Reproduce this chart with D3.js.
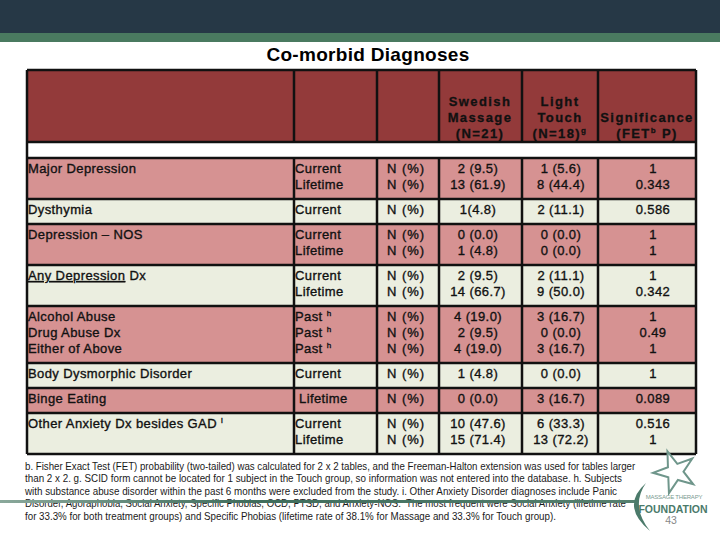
<!DOCTYPE html>
<html>
<head>
<meta charset="utf-8">
<script src="https://cdn.jsdelivr.net/npm/d3@7"></script>
<style>
  body { margin: 0; background: #fff; }
  svg { display: block; }
</style>
</head>
<body>
<div id="slide"></div>
<script>
// table content, one entry per row (inner arrays = stacked lines in a cell)
// "^x" marks a superscript letter, "_..._" marks underlined text
const diagnoses = [
  ["Major Depression"],
  ["Dysthymia"],
  ["Depression \u2013 NOS"],
  ["_Any Depression_ Dx"],
  ["Alcohol Abuse", "Drug Abuse Dx", "Either of Above"],
  ["Body Dysmorphic Disorder"],
  ["Binge Eating"],
  ["Other Anxiety Dx besides GAD ^i"]
];
const periods = [
  ["Current", "Lifetime"],
  ["Current"],
  ["Current", "Lifetime"],
  ["Current", "Lifetime"],
  ["Past ^h", "Past ^h", "Past ^h"],
  ["Current"],
  [" Lifetime"],
  ["Current", "Lifetime"]
];
const swedish = [
  ["2 (9.5)", "13 (61.9)"],
  ["1(4.8)"],
  ["0 (0.0)", "1 (4.8)"],
  ["2 (9.5)", "14 (66.7)"],
  ["4 (19.0)", "2 (9.5)", "4 (19.0)"],
  ["1 (4.8)"],
  ["0 (0.0)"],
  ["10 (47.6)", "15 (71.4)"]
];
const touch = [
  ["1 (5.6)", "8 (44.4)"],
  ["2 (11.1)"],
  ["0 (0.0)", "0 (0.0)"],
  ["2 (11.1)", "9 (50.0)"],
  ["3 (16.7)", "0 (0.0)", "3 (16.7)"],
  ["0 (0.0)"],
  ["3 (16.7)"],
  ["6 (33.3)", "13 (72.2)"]
];
const pValues = [
  ["1", "0.343"],
  ["0.586"],
  ["1", "1"],
  ["1", "0.342"],
  ["1", "0.49", "1"],
  ["1"],
  ["0.089"],
  ["0.516", "1"]
];
const headers = [
  [], [], [],
  ["Swedish", "Massage", "(N=21)"],
  ["Light", "Touch", "(N=18)^g"],
  ["", "Significance", "(FET^b P)"]
];
const footnotes = [
  "b. Fisher Exact Test (FET) probability (two-tailed) was calculated for 2 x 2 tables, and the Freeman-Halton extension was used for tables larger",
  "than 2 x 2. g. SCID form cannot be located for 1 subject in the Touch group, so information was not entered into the database. h. Subjects",
  "with substance abuse disorder within the past 6 months were excluded from the study. i. Other Anxiety Disorder diagnoses include Panic",
  "Disorder, Agoraphobia, Social Anxiety, Specific Phobias, OCD, PTSD, and Anxiety-NOS.  The most frequent were Social Anxiety (lifetime rate",
  "for 33.3% for both treatment groups) and Specific Phobias (lifetime rate of 38.1% for Massage and 33.3% for Touch group)."
];

let W = 720, H = 540;
let colEdges = [27, 294, 377, 439, 522, 598, 696];
let lineH = 16, rowPad = 9;
let pink = "#d69292", cream = "#ebeee0", headFill = "#933a3a";

let svg = d3.select("#slide").append("svg")
  .attr("width", W).attr("height", H)
  .style("font-family", "'Liberation Sans', Arial, sans-serif");

// top banner
svg.append("rect").attr("x", 0).attr("y", 0).attr("width", W).attr("height", 33).attr("fill", "#263846");
svg.append("rect").attr("x", 0).attr("y", 33).attr("width", W).attr("height", 9).attr("fill", "#4a7a60");

svg.append("text")
  .attr("x", 368).attr("y", 61)
  .attr("text-anchor", "middle")
  .attr("font-size", 19).attr("font-weight", "bold")
  .attr("letter-spacing", 0.3)
  .text("Co-morbid Diagnoses");

// writes a string with ^sup and _underline_ markers into a text element
function rich(textSel, str) {
  let lift = 0;
  str.split(/(\^.|_[^_]*_)/).filter(s => s.length).forEach(tok => {
    if (tok[0] === "^") {
      textSel.append("tspan").attr("font-size", 8).attr("dy", -5 - lift).text(tok[1]);
      lift = -5;
    } else {
      let t = textSel.append("tspan").attr("dy", -lift);
      lift = 0;
      if (tok[0] === "_") t.style("text-decoration", "underline").text(tok.slice(1, -1));
      else t.text(tok);
    }
  });
}

// row layout: height follows the number of stacked lines
let rows = diagnoses.map((d, i) => ({
  i,
  lines: Math.max(d.length, periods[i].length, swedish[i].length),
  cells: [d, periods[i], swedish[i].map(() => "N (%)"), swedish[i], touch[i], pValues[i]]
}));
let units = rows.map(r => r.lines + rowPad / lineH);
let cum = d3.cumsum([0].concat(units));
let yTop = 158, yBot = yTop + d3.sum(units) * lineH;
let y = d3.scaleLinear().domain([0, d3.sum(units)]).range([yTop, yBot]);
rows.forEach((r, i) => { r.y0 = y(cum[i]); r.y1 = y(cum[i + 1]); });

// header row
svg.append("rect").attr("x", colEdges[0]).attr("y", 70)
  .attr("width", colEdges[6] - colEdges[0]).attr("height", 72).attr("fill", headFill);
svg.append("rect").attr("x", colEdges[0]).attr("y", 142)
  .attr("width", colEdges[6] - colEdges[0]).attr("height", 16).attr("fill", "#fff");

let headCenters = [0, 0, 0, 480, 560, 647];
headers.forEach((lines, c) => {
  lines.forEach((s, k) => {
    let t = svg.append("text")
      .attr("x", headCenters[c]).attr("y", 106 + k * lineH)
      .attr("text-anchor", "middle")
      .attr("font-size", 13).attr("font-weight", "bold")
      .attr("letter-spacing", 1.4)
      .attr("fill", "#111")
      .attr("stroke", "#111").attr("stroke-width", 0.3);
    rich(t, s);
  });
});

// body rows
let rowG = svg.selectAll(".row").data(rows).join("g").attr("class", "row");
rowG.append("rect")
  .attr("x", colEdges[0]).attr("y", d => d.y0)
  .attr("width", colEdges[6] - colEdges[0]).attr("height", d => d.y1 - d.y0)
  .attr("fill", d => d.i % 2 === 0 ? pink : cream);

let bodyX = [28, 295, 406, 478, 561, 653];
let anchors = ["start", "start", "middle", "middle", "middle", "middle"];
rowG.each(function(r) {
  let g = d3.select(this);
  r.cells.forEach((lines, c) => {
    lines.forEach((s, k) => {
      let t = g.append("text")
        .attr("x", bodyX[c]).attr("y", r.y0 + 15 + k * lineH)
        .attr("text-anchor", anchors[c])
        .attr("font-size", 13)
        .attr("letter-spacing", c === 2 ? 1 : 0.4)
        .attr("fill", "#111")
        .attr("stroke", "#111").attr("stroke-width", 0.35)
        .attr("xml:space", "preserve");
      rich(t, s);
    });
  });
});

// grid lines
let grid = svg.append("g").attr("stroke", "#111").attr("stroke-width", 2.5).attr("fill", "none");
let hLines = [70, 142, 158].concat(rows.map(r => r.y1));
grid.selectAll(".h").data(hLines).join("line")
  .attr("x1", colEdges[0]).attr("x2", colEdges[6])
  .attr("y1", d => d).attr("y2", d => d);
grid.selectAll(".vh").data(colEdges).join("line")
  .attr("x1", d => d).attr("x2", d => d)
  .attr("y1", 70).attr("y2", (d, i) => (i === 0 || i === 6) ? yBot : 142);
grid.selectAll(".vb").data(colEdges.slice(1, 6)).join("line")
  .attr("x1", d => d).attr("x2", d => d)
  .attr("y1", 158).attr("y2", yBot);

// footnotes - squeezed horizontally to fit the narrow (Calibri-like) original
let footEnds = [636, 623, 618, 627, 557];
let fx = 25;
svg.append("g").selectAll("text").data(footnotes).join("text")
  .attr("font-size", 10.5)
  .attr("fill", "#1a1a1a")
  .attr("xml:space", "preserve")
  .text(d => d)
  .each(function(d, i) {
    let natural = this.getComputedTextLength();
    let k = (footEnds[i] - fx) / natural;
    d3.select(this).attr("transform", `translate(${fx},${470 + i * 12.4}) scale(${k},1)`);
  });

// swoosh + logo
let defs = svg.append("defs");
let grad = defs.append("linearGradient").attr("id", "sw");
grad.append("stop").attr("offset", "0%").attr("stop-color", "#8aa89b");
grad.append("stop").attr("offset", "40%").attr("stop-color", "#3f6d5c");
grad.append("stop").attr("offset", "100%").attr("stop-color", "#55806f");
svg.append("rect").attr("x", 0).attr("y", 500).attr("width", 636).attr("height", 3).attr("fill", "url(#sw)");

svg.append("path")
  .attr("d", "M646,483 Q620,506 650,531 Q630,506 646,483 Z")
  .attr("fill", "#4b7a6a");

let star = d3.range(10).map(k => {
  let a = -Math.PI / 2 + k * Math.PI / 5 - 0.35;
  let rr = k % 2 === 0 ? 22 : 8.5;
  return [675 + rr * Math.cos(a), 472 + rr * Math.sin(a)];
});
svg.append("path")
  .attr("d", d3.line().curve(d3.curveLinearClosed)(star))
  .attr("fill", "#fff").attr("stroke", "#6f968b").attr("stroke-width", 2);

svg.append("text").attr("x", 674).attr("y", 499).attr("text-anchor", "middle")
  .attr("font-size", 6).attr("fill", "#7a9a90").attr("letter-spacing", -0.2)
  .text("MASSAGE THERAPY");
svg.append("text").attr("x", 673).attr("y", 513).attr("text-anchor", "middle")
  .attr("font-size", 10.5).attr("font-weight", "bold").attr("fill", "#4b7a6a")
  .text("FOUNDATION");
svg.append("text").attr("x", 671).attr("y", 524).attr("text-anchor", "middle")
  .attr("font-size", 10.5).attr("fill", "#888")
  .text("43");
</script>
</body>
</html>
